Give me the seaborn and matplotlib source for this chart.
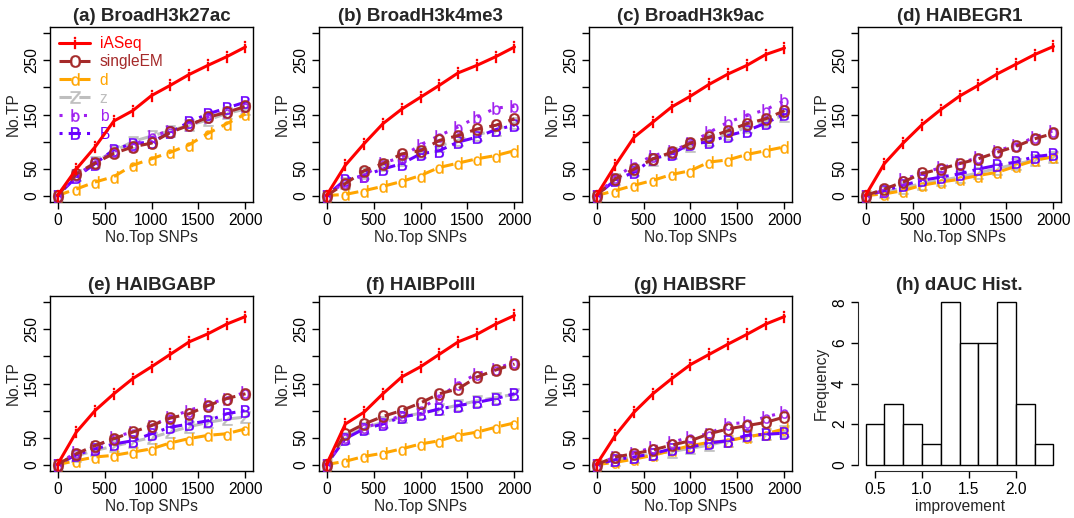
import matplotlib
matplotlib.use('Agg')
import matplotlib.pyplot as plt
import seaborn as sns

# ---- data ----
snps = [0, 200, 400, 600, 800, 1000, 1200, 1400, 1600, 1800, 2000]
titles = ['(a) BroadH3k27ac', '(b) BroadH3k4me3', '(c) BroadH3k9ac', '(d) HAIBEGR1',
          '(e) HAIBGABP', '(f) HAIBPolII', '(g) HAIBSRF']

iaseq = [
    [0, 49, 90, 138, 157, 185, 204, 224, 241, 257, 275],
    [0, 56, 96, 133, 160, 182, 204, 227, 241, 257, 275],
    [0, 56, 108, 136, 164, 184, 206, 225, 241, 261, 273],
    [0, 59, 97, 131, 159, 184, 204, 225, 243, 261, 276],
    [0, 60, 100, 131, 159, 181, 204, 227, 242, 260, 274],
    [0, 75, 97, 131, 162, 181, 204, 227, 241, 260, 276],
    [0, 54, 97, 131, 159, 185, 204, 223, 241, 260, 274],
]
single_em = [
    [0, 40, 60, 78, 90, 97, 117, 130, 145, 154, 165],
    [0, 22, 46, 59, 77, 83, 102, 111, 123, 130, 142],
    [0, 31, 49, 68, 80, 97, 108, 120, 133, 142, 157],
    [0, 12, 25, 41, 49, 59, 68, 80, 91, 105, 115],
    [0, 20, 35, 48, 60, 72, 86, 94, 109, 122, 131],
    [0, 57, 75, 89, 100, 114, 131, 140, 162, 175, 186],
    [0, 14, 20, 27, 36, 44, 57, 66, 72, 78, 88],
]
d_vals = [
    [0, 12, 25, 35, 56, 68, 80, 94, 115, 133, 151],
    [0, 2, 9, 17, 26, 37, 52, 60, 68, 74, 83],
    [0, 9, 19, 28, 39, 46, 62, 66, 76, 83, 90],
    [0, 3, 9, 19, 25, 30, 37, 43, 54, 65, 72],
    [0, 7, 14, 17, 23, 29, 40, 48, 54, 57, 66],
    [0, 6, 15, 21, 29, 38, 44, 54, 60, 69, 77],
    [0, 4, 10, 17, 26, 35, 41, 44, 51, 57, 66],
]
z_vals = [
    [0, 38, 62, 82, 100, 110, 120, 130, 140, 152, 160],
    [0, 24, 42, 56, 66, 80, 92, 102, 112, 122, 135],
    [0, 30, 48, 66, 78, 92, 102, 114, 126, 138, 148],
    [0, 6, 14, 22, 28, 34, 42, 50, 58, 66, 72],
    [0, 16, 26, 34, 42, 50, 60, 70, 78, 84, 88],
    [0, 50, 68, 78, 88, 95, 102, 110, 118, 124, 130],
    [0, 8, 14, 20, 24, 30, 36, 44, 52, 56, 62],
]
b_vals = [
    [0, 38, 60, 82, 92, 110, 120, 130, 145, 155, 165],
    [0, 25, 37, 60, 71, 94, 111, 127, 145, 162, 165],
    [0, 34, 56, 74, 82, 97, 117, 136, 148, 159, 176],
    [0, 9, 31, 40, 52, 59, 71, 83, 93, 108, 120],
    [0, 23, 32, 51, 60, 72, 88, 100, 112, 122, 134],
    [0, 51, 69, 78, 91, 103, 125, 149, 168, 177, 190],
    [0, 14, 21, 32, 41, 51, 57, 75, 78, 88, 97],
]
B_vals = [
    [0, 34, 59, 85, 96, 99, 117, 136, 151, 162, 173],
    [0, 29, 37, 49, 59, 77, 83, 99, 108, 122, 130],
    [0, 29, 43, 68, 77, 96, 99, 111, 120, 134, 151],
    [0, 9, 19, 28, 34, 40, 49, 56, 62, 72, 76],
    [0, 18, 29, 38, 44, 57, 69, 75, 81, 94, 100],
    [0, 48, 66, 75, 88, 94, 103, 109, 115, 122, 131],
    [0, 9, 14, 20, 29, 32, 40, 44, 54, 56, 58],
]

# dAUC histogram
hist_edges = [0.4, 0.6, 0.8, 1.0, 1.2, 1.4, 1.6, 1.8, 2.0, 2.2, 2.4]
hist_counts = [2, 3, 2, 1, 8, 6, 6, 8, 3, 1]

# ---- style ----
sns.set_style('ticks')
plt.rcParams['font.family'] = ['Liberation Sans', 'DejaVu Sans']
plt.rcParams['xtick.major.size'] = 5
plt.rcParams['ytick.major.size'] = 5
plt.rcParams['xtick.major.width'] = 1
plt.rcParams['ytick.major.width'] = 1
plt.rcParams['xtick.color'] = 'black'
plt.rcParams['ytick.color'] = 'black'

FS = 11.2

# name, values, colour, linestyle, marker, draw order
series = [
    ('z', z_vals, '#BEBEBE', (0, (4, 2.5)), r'$\mathrm{z}$', 2),
    ('d', d_vals, '#FFA500', (0, (4, 2.5)), r'$\mathrm{d}$', 3),
    ('B', B_vals, '#6A00FF', (0, (1, 2, 4, 2)), r'$\mathrm{B}$', 4),
    ('b', b_vals, '#A020F0', (0, (1, 3)), r'$\mathrm{b}$', 5),
    ('singleEM', single_em, '#A52A2A', (0, (4, 2.5)), r'$\mathrm{o}$', 6),
    ('iASeq', iaseq, '#FF0000', '-', r'$\mathrm{i}$', 7),
]
legend_order = ['iASeq', 'singleEM', 'd', 'z', 'b', 'B']

W, H = 1074, 518
fig = plt.figure(figsize=(W / 100, H / 100), dpi=100)

lefts = [50, 319, 589, 858]
tops = [27, 296]
bw, bh = 203, 175


def make_ax(col, row):
    l = lefts[col]
    t = tops[row]
    return fig.add_axes([l / W, 1 - (t + bh) / H, bw / W, bh / H])


for i, title in enumerate(titles):
    ax = make_ax(i % 4, i // 4)
    handles = {}
    for name, vals, color, ls, mk, z in series:
        sns.lineplot(x=snps, y=vals[i], ax=ax, color=color, linestyle=ls, lw=2.2,
                     marker=mk, markersize=9, markeredgecolor=color,
                     markeredgewidth=0.2, zorder=z, legend=False)
        handles[name] = ax.lines[-1]
    ax.set_xlim(-80, 2080)
    ax.set_ylim(-12, 312)
    ax.set_xticks([0, 500, 1000, 1500, 2000])
    ax.set_yticks([0, 50, 100, 150, 200, 250, 300])
    ax.set_yticklabels(['0', '50', '', '150', '', '250', ''], rotation=90, va='center')
    ax.tick_params(labelsize=FS, pad=3)
    ax.set_xlabel('No.Top SNPs', fontsize=FS, labelpad=1.5)
    ax.set_ylabel('No.TP', fontsize=FS, labelpad=2)
    ax.set_title(title, fontsize=13.5, fontweight='bold', pad=4)
    for sp in ax.spines.values():
        sp.set_visible(True)
        sp.set_linewidth(1)
        sp.set_color('black')
    if i == 0:
        leg = ax.legend([handles[n] for n in legend_order], legend_order,
                        loc='upper left', frameon=False, fontsize=FS,
                        handlelength=2.0, handletextpad=0.6, labelspacing=0.2,
                        borderaxespad=0.3, borderpad=0.3)
        colors = {s[0]: s[2] for s in series}
        for txt, n in zip(leg.get_texts(), legend_order):
            txt.set_color(colors[n])

# ---- (h) histogram ----
ax = make_ax(3, 1)
centers = [(a + b) / 2 for a, b in zip(hist_edges[:-1], hist_edges[1:])]
sns.histplot(x=centers, weights=hist_counts, bins=hist_edges, ax=ax,
             color='white', edgecolor='black', linewidth=1, alpha=1)
ax.set_xlim(0.32, 2.48)
ax.set_ylim(-0.32, 8.32)
ax.set_xticks([0.5, 1.0, 1.5, 2.0])
ax.set_xticklabels(['0.5', '1.0', '1.5', '2.0'])
ax.set_yticks([0, 2, 4, 6, 8])
ax.set_yticklabels(['0', '2', '4', '6', '8'], rotation=90, va='center')
ax.tick_params(labelsize=FS, pad=3)
ax.spines['top'].set_visible(False)
ax.spines['right'].set_visible(False)
ax.spines['left'].set_bounds(0, 8)
ax.spines['bottom'].set_bounds(0.5, 2.0)
ax.set_xlabel('improvement', fontsize=FS, labelpad=1.5)
ax.set_ylabel('Frequency', fontsize=FS, labelpad=2)
ax.set_title('(h) dAUC Hist.', fontsize=13.5, fontweight='bold', pad=4)

fig.savefig('out.png', dpi=100, facecolor='white')
